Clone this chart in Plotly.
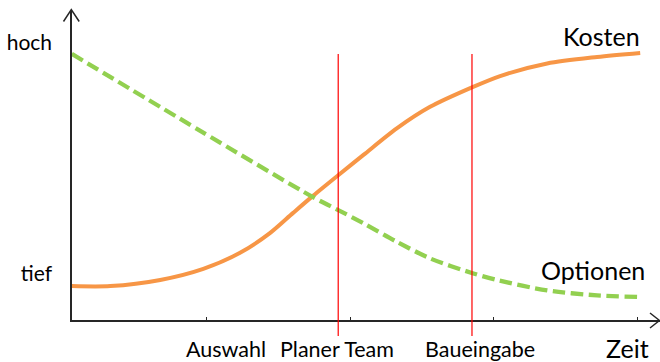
import plotly.graph_objects as go

# ---- data (time in arbitrary units, level 0-100) ----
kosten_x = [1.5, 8.2, 16.9, 24.4, 30.8, 36.0, 40.0, 43.5, 47.9, 52.3, 58.1, 63.9, 71.3, 76.1, 84.3, 93.0, 100.5]
kosten_y = [11.0, 11.0, 13.0, 16.6, 21.8, 28.2, 34.7, 40.3, 47.0, 53.6, 62.2, 69.2, 75.6, 79.2, 83.3, 85.4, 86.7]

optionen_x = [1.5, 23.8, 43.6, 47.9, 52.3, 58.1, 63.9, 71.3, 75.5, 84.3, 93.0, 100.0]
optionen_y = [86.4, 61.5, 39.8, 35.7, 31.4, 25.4, 20.0, 15.2, 13.0, 9.6, 8.0, 7.5]

milestones_x = [47.9, 71.2]
x_ticks = [25, 50, 75, 100]
x_labels = ["Auswahl", "Planer Team", "Baueingabe"]
x_label_pos = [28.4, 47.7, 72.6]
x_title = "Zeit"
x_title_pos = 98.3
y_ticks = [90, 15]
y_labels = ["hoch", "tief"]

FONT = "Lato"
W, H = 660, 362
L, R, T, B = 72, 0, 12, 42


def px2paper(px, py):
    return (px - L) / (W - L - R), (H - B - py) / (H - T - B)


fig = go.Figure()
fig.add_trace(go.Scatter(x=kosten_x, y=kosten_y, mode="lines",
                         line=dict(color="#F79646", width=4, shape="spline", smoothing=0.8),
                         hoverinfo="skip"))
fig.add_trace(go.Scatter(x=optionen_x, y=optionen_y, mode="lines",
                         line=dict(color="#92D050", width=4.3, shape="spline", smoothing=0.8,
                                   dash="12.5px,5.5px"),
                         hoverinfo="skip"))

shapes = []
_, ytop = px2paper(0, 54)
_, ybot = px2paper(0, 336)
for mx in milestones_x:
    shapes.append(dict(type="line", xref="x", yref="paper", x0=mx, x1=mx, y0=ybot, y1=ytop,
                       line=dict(color="#FF0000", width=1.2)))

# arrow heads
ax_col = "#262626"
tx, ty = px2paper(71.3, 9.5)
a1x, a1y = px2paper(63.5, 21.5)
a2x, a2y = px2paper(79.2, 21.5)
bx, by = px2paper(71.3, 14)
shapes.append(dict(type="path", xref="paper", yref="paper",
                   path=f"M {a1x} {a1y} L {tx} {ty} L {a2x} {a2y} M {tx} {ty} L {bx} {by}",
                   line=dict(color=ax_col, width=1.5)))
tx, ty = px2paper(659.5, 320.5)
a1x, a1y = px2paper(650, 313)
a2x, a2y = px2paper(650, 328)
shapes.append(dict(type="path", xref="paper", yref="paper",
                   path=f"M {a1x} {a1y} L {tx} {ty} L {a2x} {a2y}",
                   line=dict(color=ax_col, width=1.5)))

annotations = []
_, ylab = px2paper(0, 349)
for lab, pos in zip(x_labels, x_label_pos):
    annotations.append(dict(text=lab, x=pos, y=ylab, xref="x", yref="paper", showarrow=False,
                            xanchor="center", yanchor="middle",
                            font=dict(family=FONT, size=21.5, color="black")))
_, ytit = px2paper(0, 348)
annotations.append(dict(text=x_title, x=x_title_pos, y=ytit, xref="x", yref="paper", showarrow=False,
                        xanchor="center", yanchor="middle",
                        font=dict(family=FONT, size=25, color="black")))
annotations.append(dict(text="Kosten", x=100.8, y=92.3, xref="x", yref="y", showarrow=False,
                        xanchor="right", yanchor="middle",
                        font=dict(family=FONT, size=25, color="black")))
annotations.append(dict(text="Optionen", x=101.6, y=16.2, xref="x", yref="y", showarrow=False,
                        xanchor="right", yanchor="middle",
                        font=dict(family=FONT, size=25, color="black")))

fig.update_layout(
    width=W, height=H,
    margin=dict(l=L, r=R, t=T, b=B, pad=0),
    paper_bgcolor="white", plot_bgcolor="white",
    showlegend=False,
    shapes=shapes,
    annotations=annotations,
    xaxis=dict(range=[1.53, 103.95], showline=True, linecolor=ax_col, linewidth=1.5,
               tickvals=x_ticks, ticks="inside", ticklen=3, tickcolor=ax_col, tickwidth=1,
               showticklabels=False, showgrid=False, zeroline=False, fixedrange=True),
    yaxis=dict(range=[0, 100], showline=True, linecolor=ax_col, linewidth=1.5,
               tickvals=y_ticks, ticktext=y_labels, ticks="", ticklabelstandoff=14,
               tickfont=dict(family=FONT, size=21, color="black"),
               showgrid=False, zeroline=False, fixedrange=True),
)

fig.write_html("out.html", config={"displayModeBar": False})
